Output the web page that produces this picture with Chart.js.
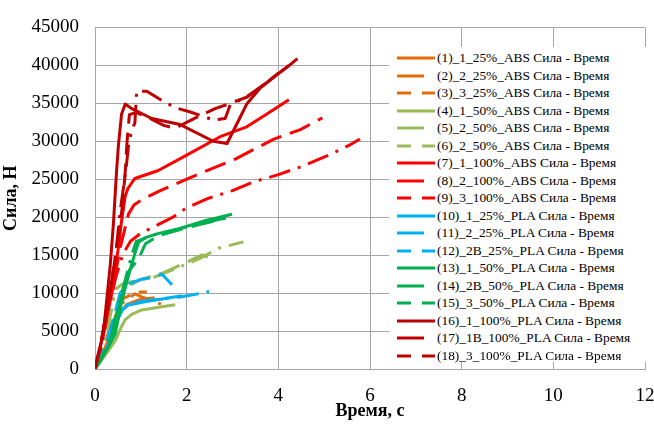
<!DOCTYPE html>
<html><head><meta charset="utf-8">
<script src="https://cdn.jsdelivr.net/npm/chart.js@4"></script>
<style>
body{margin:0;background:#fff}
#wrap{position:relative;width:654px;height:429px}
#legend{position:absolute;left:389px;top:47px;width:265px;height:315px;background:#fff;font-family:'Liberation Serif',serif;font-size:13.4px;color:#000;padding-top:2.5px;box-sizing:border-box}
.row{height:17.5px;display:flex;align-items:center;white-space:nowrap}
.row svg{margin-left:8px;margin-right:2px;flex:none}
</style></head>
<body><div id="wrap"><canvas id="c" width="654" height="429"></canvas><div id="legend"></div></div>
<script>
// время, с / сила, Н
const t1=[0,0.2,0.4,0.55,0.7,1.0,1.3];                 const f1=[0,2500,5500,7500,8500,9200,9400];
const t2=[0,0.25,0.45,0.62,0.91,1.13];                 const f2=[0,4000,7500,9300,10130,10130];
const t3=[0,0.25,0.45,0.62,0.87,1.02,1.31,1.49];       const f3=[0,3500,7000,8800,9900,9490,8850,8420];
const t4=[0,0.15,0.3,0.44,0.58,0.66,0.8,1.02,1.46,1.75];  const f4=[0,1200,2500,3700,5600,6500,7200,7780,8200,8450];
const t5=[0,0.2,0.4,0.55,0.75,1.0,1.5,2.04,2.33,2.62];    const f5=[0,2500,6500,9800,11000,11800,12700,14190,15040,14400];
const t6=[0,0.15,0.3,0.45,0.6,0.8,1.27,1.8,2.3,2.69,3.24]; const f6=[0,2000,6000,10500,11200,11500,12050,13300,14600,15900,16750];
const t7=[0,0.07,0.22,0.36,0.5,0.58,0.66,0.72,0.8,0.87,1.38,1.97,2.73,3.31,3.75,4.23];
const f7=[0,1200,6500,11000,15500,19500,22800,23800,24500,25100,26150,28080,30600,31900,33600,35470];
const t8=[0,0.1,0.25,0.4,0.55,0.73,0.85,1.02,1.46,2.04,2.55,3.06,3.89,4.48,4.96];
const f8=[0,2000,6500,11000,16000,20400,21600,22300,23600,25100,26400,27650,30250,31540,33080];
const t9=[0,0.12,0.3,0.45,0.6,0.77,0.98,1.71,2.0,2.48,3.0,3.46,4.0,4.52,5.06,5.54,5.78];
const f9=[0,2500,8000,12000,15000,16800,17800,20040,21240,22500,23500,24650,25600,26700,28080,29450,30300];
const t10=[0,0.15,0.36,0.51,0.6,0.73,1.09,1.5,1.89];   const f10=[0,1500,4100,6700,7800,8420,8850,9250,9650];
const t11=[0,0.2,0.4,0.55,0.73,1.02,1.27,1.46,1.53,1.68]; const f11=[0,2500,6500,10000,11200,11840,12050,12480,12050,11100];
const t12=[0,0.15,0.35,0.5,0.7,1.1,1.5,1.86,2.19,2.49];  const f12=[0,1500,4500,7000,8500,9000,9300,9490,9830,10220];
const t13=[0,0.15,0.3,0.44,0.58,0.73,0.85,0.95,1.1,1.35,1.82,2.4,2.99];
const f13=[0,1500,3000,4600,8850,12300,14800,16700,17300,17800,18460,19530,20380];
const t14=[0,0.2,0.4,0.6,0.75,0.95,1.1,1.4,2.0,2.6,2.85]; const f14=[0,2000,5000,10000,13000,14500,16500,17600,18600,19500,19900];
const t15=[0,0.15,0.35,0.5,0.65,0.8,0.9,1.3,2.0,2.5,2.9];  const f15=[0,1500,4500,8000,11500,15000,16800,17700,18700,19400,20000];
const t16=[0,0.05,0.18,0.25,0.33,0.4,0.47,0.51,0.58,0.66,0.8,1.24,1.86,2.58,2.88,3.17,3.31,3.61,4.23];
const f16=[0,1500,4600,8800,13500,19000,26000,29400,33600,34900,34300,33000,32200,30000,29700,33200,34900,37050,40000];
const t17=[0,0.1,0.25,0.4,0.52,0.6,0.66,0.7,0.75,0.9,1.2,1.5,1.75,2.0,2.3,2.62,2.91,3.1,3.31,3.7,4.15];
const f17=[0,2500,7500,13000,18000,21500,26000,30000,33500,33800,33000,32100,31700,32500,33400,34300,34900,35350,35800,37500,39700];
const t18=[0,0.12,0.3,0.45,0.55,0.6,0.68,0.73,0.8,0.87,0.91,1.13,1.53,1.82,2.08,2.59,2.84,2.95,3.3,3.8,4.2,4.44];
const f18=[0,3000,9000,15000,20800,23000,26500,29400,31500,32400,36600,36600,35100,34300,33850,32800,33000,34800,35800,38000,39800,41000];

const names=['(1)_1_25%_ABS','(2)_2_25%_ABS','(3)_3_25%_ABS','(4)_1_50%_ABS','(5)_2_50%_ABS','(6)_2_50%_ABS',
 '(7)_1_100%_ABS','(8)_2_100%_ABS','(9)_3_100%_ABS','(10)_1_25%_PLA','(11)_2_25%_PLA','(12)_2B_25%_PLA',
 '(13)_1_50%_PLA','(14)_2B_50%_PLA','(15)_3_50%_PLA','(16)_1_100%_PLA','(17)_1B_100%_PLA','(18)_3_100%_PLA'];
const T=[t1,t2,t3,t4,t5,t6,t7,t8,t9,t10,t11,t12,t13,t14,t15,t16,t17,t18];
const F=[f1,f2,f3,f4,f5,f6,f7,f8,f9,f10,f11,f12,f13,f14,f15,f16,f17,f18];
const colors=['#E46C0A','#9BBB59','#FF0000','#00B0F0','#00B050','#C00000'];
const dashes=[[],[22,9],[22,8,3,8]];
const legendDash=['','27 13','14 11 14'];

const serif='"Liberation Serif", "Times New Roman", serif';
let datasets=names.map((n,i)=>({
  label:n+' Сила - Время',
  data:T[i].map((t,k)=>({x:t,y:F[i][k]})),
  borderColor:colors[Math.floor(i/3)], borderDash:dashes[i%3], borderWidth:3,
  pointRadius:0, showLine:true, tension:0, borderJoinStyle:'round', order:18-i
}));

new Chart(document.getElementById('c'),{
  type:'scatter', data:{datasets},
  options:{responsive:false, animation:false,
    layout:{padding:{left:0,right:9,top:18,bottom:0}},
    plugins:{legend:{display:false},tooltip:{enabled:false}},
    scales:{
      x:{type:'linear',min:0,max:12,
        ticks:{stepSize:2,padding:16,color:'#000',font:{family:serif,size:19}},
        grid:{color:'#a6a6a6',drawTicks:false}, border:{color:'#a6a6a6'},
        title:{display:true,text:'Время, с',color:'#000',font:{family:serif,size:18,weight:'bold'},padding:{top:0,bottom:7}},
        afterFit(s){s.height=60; s.paddingLeft=0; s.paddingRight=0;}},
      y:{min:0,max:45000,
        ticks:{stepSize:5000,padding:16,color:'#000',font:{family:serif,size:19},callback:v=>String(v)},
        grid:{color:'#a6a6a6',drawTicks:false}, border:{color:'#a6a6a6'},
        title:{display:true,text:'Сила, Н',color:'#000',font:{family:serif,size:18,weight:'bold'},padding:{top:1,bottom:0}},
        afterFit(s){s.width=95;}}
    }}
});

let lg=document.getElementById('legend');
datasets.forEach((d,i)=>{
  let c=d.borderColor, da=legendDash[i%3];
  lg.innerHTML+=`<div class="row"><svg width="38" height="6"><line x1="0" y1="3" x2="38" y2="3" stroke="${c}" stroke-width="3" ${da?'stroke-dasharray="'+da+'"':''}/></svg><span>${d.label}</span></div>`;
});
</script>
</body></html>
